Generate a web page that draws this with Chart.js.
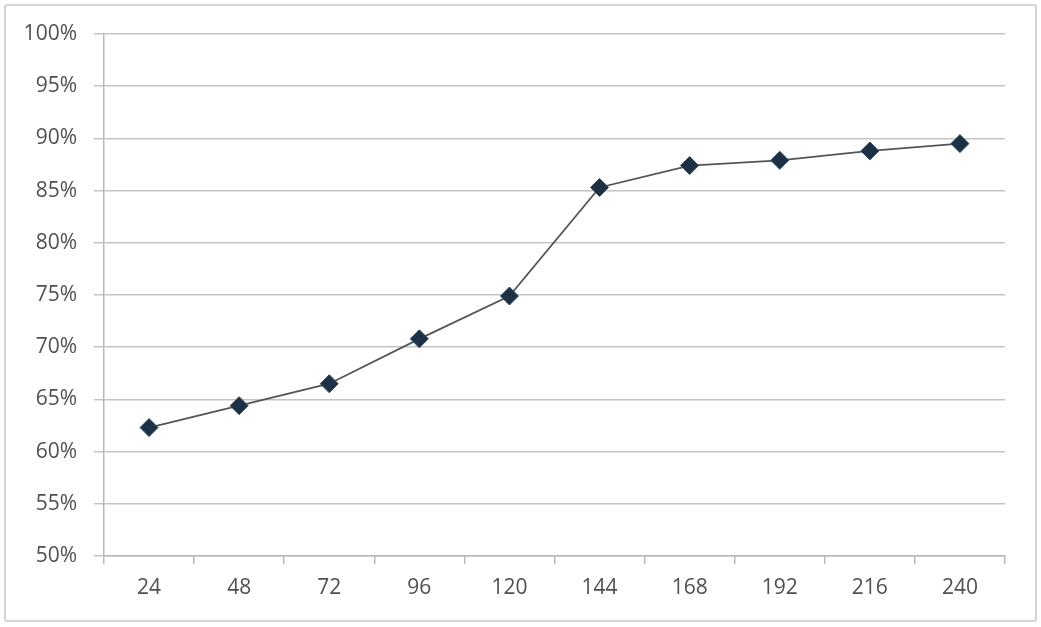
<!DOCTYPE html>
<html>
<head>
<meta charset="utf-8">
<script src="https://cdn.jsdelivr.net/npm/chart.js@4/dist/chart.umd.min.js"></script>
<style>
  body { margin: 0; background: #fff; }
  #wrap { position: relative; width: 1041px; height: 627px; }
  #frame { position: absolute; left: 4px; top: 4px; width: 1029px; height: 614px;
           border: 2px solid #d4d4d4; border-radius: 3px; }
  #chart { position: absolute; left: 0; top: 0; }
</style>
</head>
<body>
<div id="wrap">
  <div id="frame"></div>
  <canvas id="chart" width="1041" height="627"></canvas>
</div>
<script>
// hours on the x axis
const hours = ['24', '48', '72', '96', '120', '144', '168', '192', '216', '240']
// values in percent
const rate = [62.3, 64.4, 66.5, 70.8, 74.9, 85.3, 87.4, 87.9, 88.8, 89.5]

const y_min = 50
const y_max = 100
const y_step = 5

const ctx = document.getElementById('chart')

new Chart(ctx, {
    type: 'line',
    data: {
        labels: hours,
        datasets: [{
            data: rate,
            borderColor: '#555555',
            borderWidth: 1.8,
            pointStyle: 'rectRot',
            pointRadius: 9,
            pointBackgroundColor: '#1e3044',
            pointBorderColor: '#2c4966',
            pointBorderWidth: 1,
            tension: 0,
            fill: false
        }]
    },
    options: {
        responsive: false,
        animation: false,
        layout: { padding: { left: 0, right: 36, top: 34, bottom: 0 } },
        plugins: { legend: { display: false }, tooltip: { enabled: false } },
        scales: {
            x: {
                offset: true,
                grid: { offset: true, drawOnChartArea: false, tickLength: 8, color: '#b8b8b8', lineWidth: 1.5 },
                border: { color: '#b8b8b8', width: 1.5 },
                ticks: { color: '#505050', font: { family: 'Open Sans', size: 21 }, padding: 11, maxRotation: 0 },
                afterFit: function(scale) { scale.height = 71 }
            },
            y: {
                min: y_min,
                max: y_max,
                grid: { color: '#c4c4c4', lineWidth: 1.5, tickLength: 10 },
                border: { color: '#b8b8b8', width: 1.5 },
                ticks: {
                    stepSize: y_step,
                    color: '#505050',
                    font: { family: 'Open Sans', size: 21 },
                    padding: 17,
                    callback: v => v + '%'
                },
                afterFit: function(scale) { scale.width = 104 }
            }
        }
    }
})
</script>
</body>
</html>
